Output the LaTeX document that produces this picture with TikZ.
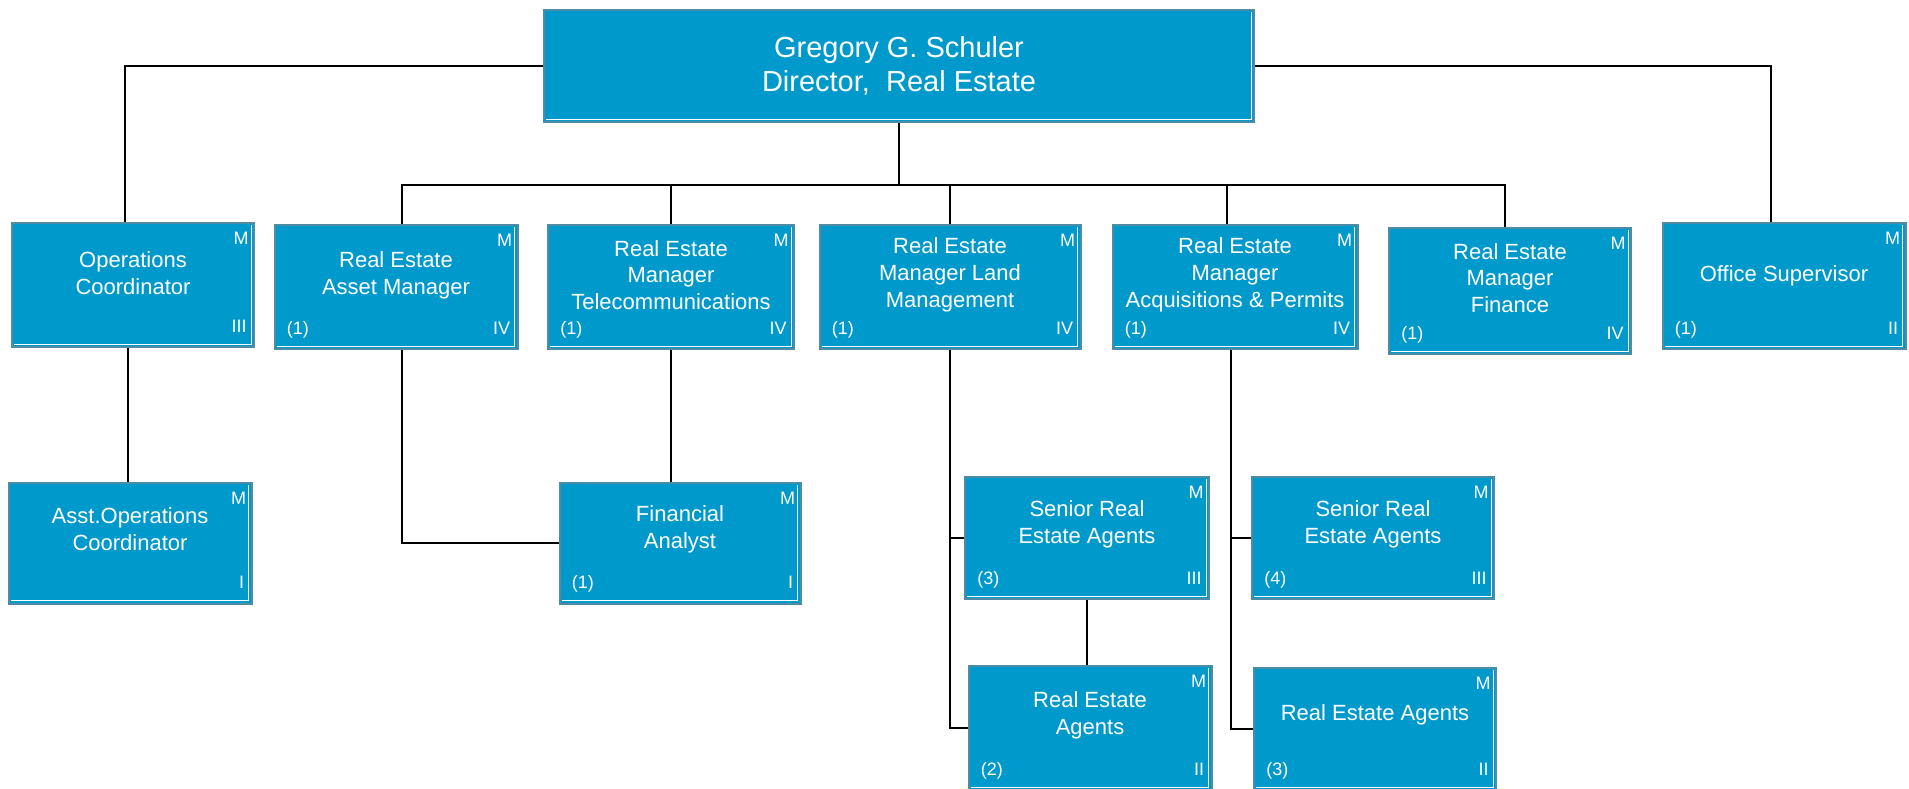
\documentclass[tikz,border=0pt]{standalone}
\usepackage{fontspec}
\setmainfont{Liberation Sans}

\definecolor{postfill}{RGB}{0,153,204}
\definecolor{postline}{RGB}{78,140,165}

\tikzset{
  post/.style={draw=postline, fill=postfill, line width=1pt, inner sep=0pt,
    path picture={\draw[white, line width=0.5pt]
      ([shift={(1.2pt,1.3pt)}]path picture bounding box.south west)
      -- ([shift={(-1.3pt,1.3pt)}]path picture bounding box.south east)
      -- ([shift={(-1.3pt,-1.2pt)}]path picture bounding box.north east);}},
  title/.style={text=white, align=center, inner sep=0pt,
    font=\fontsize{11}{13.4}\selectfont},
  tag/.style={text=white, inner sep=0pt, font=\fontsize{9}{10.5}\selectfont},
  wire/.style={line width=1pt},
}

% corner tags of a box: name, head count, grade
\newcommand\tags[3]{%
  \node[tag, anchor=north east] (#1m) at ([shift={(-3pt,-5pt)}]#1.north east) {M};
  \node[tag, anchor=base east] (#1g) at ([shift={(-4pt,8pt)}]#1.south east) {#3};
  \node[tag, anchor=base west] (#1c) at ([shift={(6.5pt,8pt)}]#1.south west) {#2};}

\begin{document}
\begin{tikzpicture}[x=0.5pt, y=-0.5pt]
  \useasboundingbox (0,0) rectangle (1909,788);

  % director
  \node[post, title, minimum width=355pt, minimum height=56pt,
    font=\fontsize{14.5}{17}\selectfont] (dir) at (899,66)
    {Gregory G. Schuler\\Director,~ Real Estate};

  % first row
  \node[post, minimum width=121pt, minimum height=62pt] (ops) at (133,285) {};
  \node[title] (opst) at ([yshift=6pt]ops.center) {Operations\\Coordinator};
  \tags{ops}{}{III}
  \node[post, minimum width=121.5pt, minimum height=62pt] (asset) at (396,287) {};
  \node[title] (assett) at ([yshift=6pt]asset.center) {Real Estate\\Asset Manager};
  \tags{asset}{(1)}{IV}
  \node[post, minimum width=123pt, minimum height=62pt] (tele) at (671,287) {};
  \node[title] (telet) at ([yshift=6pt]tele.center) {Real Estate\\Manager\\Telecommunications};
  \tags{tele}{(1)}{IV}
  \node[post, minimum width=130.5pt, minimum height=62pt] (land) at (950,287) {};
  \node[title] (landt) at ([yshift=6pt]land.center) {Real Estate\\Manager Land\\Management};
  \tags{land}{(1)}{IV}
  \node[post, minimum width=122.5pt, minimum height=62pt] (acq) at (1235,287) {};
  \node[title] (acqt) at ([yshift=6pt]acq.center) {Real Estate\\Manager\\Acquisitions \& Permits};
  \tags{acq}{(1)}{IV}
  \node[post, minimum width=121pt, minimum height=63pt] (fin) at (1510,291) {};
  \node[title] (fint) at ([yshift=6.5pt]fin.center) {Real Estate\\Manager\\Finance};
  \tags{fin}{(1)}{IV}
  \node[post, minimum width=121.5pt, minimum height=63pt] (office) at (1784,286) {};
  \node[title] (officet) at ([yshift=5pt]office.center) {Office Supervisor};
  \tags{office}{(1)}{II}

  % second row
  \node[post, minimum width=121.5pt, minimum height=60.5pt] (asstops) at (130,543) {};
  \node[title] (asstopst) at ([yshift=7pt]asstops.center) {Asst.Operations\\Coordinator};
  \tags{asstops}{}{I}
  \node[post, minimum width=120.5pt, minimum height=60.5pt] (fa) at (680,543) {};
  \node[title] (fat) at ([yshift=7pt]fa.center) {Financial\\Analyst};
  \tags{fa}{(1)}{I}
  \node[post, minimum width=122pt, minimum height=61pt] (sr3) at (1087,538) {};
  \node[title] (sr3t) at ([yshift=7pt]sr3.center) {Senior Real\\Estate Agents};
  \tags{sr3}{(3)}{III}
  \node[post, minimum width=121pt, minimum height=61pt] (sr4) at (1373,538) {};
  \node[title] (sr4t) at ([yshift=7pt]sr4.center) {Senior Real\\Estate Agents};
  \tags{sr4}{(4)}{III}

  % third row
  \node[post, minimum width=121.5pt, minimum height=62pt] (ag2) at (1090,728) {};
  \node[title] (ag2t) at ([yshift=6.5pt]ag2.center) {Real Estate\\Agents};
  \tags{ag2}{(2)}{II}
  \node[post, minimum width=121pt, minimum height=61pt] (ag3) at (1375,729) {};
  \node[title] (ag3t) at ([yshift=7pt]ag3.center) {Real Estate Agents};
  \tags{ag3}{(3)}{II}

  % lines
  \coordinate (bus) at (896,185);
  \coordinate (acqtop) at ([xshift=-4pt]acq.north);
  \coordinate (acqfoot) at ([xshift=-2pt]acq.south);
  \coordinate (opsfoot) at ([xshift=-2.5pt]ops.south);
  \draw[wire] (dir.west) -| ([xshift=-4pt]ops.north);
  \draw[wire] (dir.east) -| ([xshift=-6.5pt]office.north);
  \draw[wire] (dir.south) -- (dir.south |- bus);
  \draw[wire] ([xshift=3pt]asset.north) |- (bus) -| ([xshift=-2.5pt]fin.north);
  \draw[wire] (tele.north) -- (tele.north |- bus);
  \draw[wire] (land.north) -- (land.north |- bus);
  \draw[wire] (acqtop) -- (acqtop |- bus);
  \draw[wire] (opsfoot) -- (opsfoot |- asstops.north);
  \draw[wire] ([xshift=3pt]asset.south) |- (fa.west);
  \draw[wire] (tele.south) -- (tele.south |- fa.north);
  \draw[wire] (land.south) |- (ag2.west);
  \draw[wire] (sr3.west) -- (sr3.west -| land.south);
  \draw[wire] (sr3.south) -- (sr3.south |- ag2.north);
  \draw[wire] (acqfoot) |- (ag3.west);
  \draw[wire] (sr4.west) -- (sr4.west -| acqfoot);
\end{tikzpicture}
\end{document}
